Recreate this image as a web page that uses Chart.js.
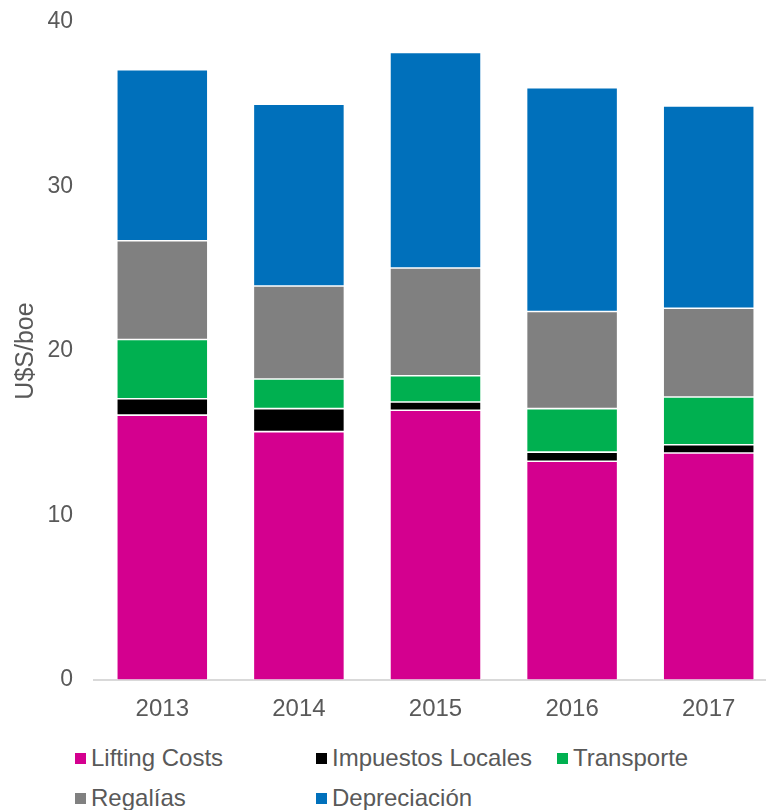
<!DOCTYPE html>
<html>
<head>
<meta charset="utf-8">
<script src="https://cdn.jsdelivr.net/npm/chart.js@4"></script>
<style>
  html, body { margin: 0; padding: 0; background: #fff; overflow: hidden; }
  #wrap { position: relative; width: 777px; height: 740px; }
  #legend { position: relative; height: 70px; font-family: "Liberation Sans", Arial, sans-serif; font-size: 24px; color: #595959; }
  .item { position: absolute; display: flex; align-items: center; white-space: nowrap; }
  .box { width: 11px; height: 11px; margin-right: 5px; }
</style>
</head>
<body>
<div id="wrap"><canvas id="myChart" width="777" height="740"></canvas></div>
<div id="legend"></div>
<script>
'use strict'

let years = ['2013', '2014', '2015', '2016', '2017'];
let liftingCosts = [16.1, 15.1, 16.4, 13.3, 13.8];
let impuestosLocales = [1.0, 1.4, 0.5, 0.55, 0.5];
let transporte = [3.6, 1.8, 1.6, 2.65, 2.9];
let regalias = [6.0, 5.65, 6.55, 5.9, 5.4];
let depreciacion = [10.4, 11.05, 13.1, 13.6, 12.3];
let seriesNames = ['Lifting Costs', 'Impuestos Locales', 'Transporte', 'Regalías', 'Depreciación'];
let seriesColors = ['#d4008f', '#000000', '#00b050', '#808080', '#0070bb'];
let seriesData = [liftingCosts, impuestosLocales, transporte, regalias, depreciacion];
let yTicks = [0, 10, 20, 30, 40];

let datasets = [];
for (let i = 0; i < seriesNames.length; i++) {
    datasets.push({
        label: seriesNames[i],
        data: seriesData[i],
        backgroundColor: seriesColors[i],
        borderColor: 'rgba(255,255,255,0.45)',
        borderWidth: 0.8,
        borderSkipped: false,
        categoryPercentage: 1,
        barPercentage: 0.667
    });
}

let ctx = document.getElementById('myChart').getContext('2d');
let myChart = new Chart(ctx, {
    type: 'bar',
    data: {
        labels: years,
        datasets: datasets
    },
    options: {
        responsive: false,
        animation: false,
        layout: { padding: { top: 22, left: 0, right: 0, bottom: 0 } },
        plugins: {
            legend: { display: false },
            tooltip: { enabled: false }
        },
        scales: {
            x: {
                stacked: true,
                grid: { display: false, drawTicks: false },
                border: { display: true, color: '#d9d9d9', width: 2 },
                ticks: {
                    color: '#595959',
                    padding: 15,
                    font: { family: 'Liberation Sans', size: 24 }
                },
                afterFit: function (scale) { scale.height = 60; }
            },
            y: {
                stacked: true,
                min: 0,
                max: 40,
                afterBuildTicks: function (scale) {
                    scale.ticks = yTicks.map(function (v) { return { value: v }; });
                },
                grid: { display: false, drawTicks: false },
                border: { display: false },
                ticks: {
                    color: '#595959',
                    padding: 21,
                    font: { family: 'Liberation Sans', size: 23 }
                },
                title: {
                    display: true,
                    text: 'U$S/boe',
                    color: '#595959',
                    padding: { top: 11, bottom: 0 },
                    font: { family: 'Liberation Sans', size: 25 }
                },
                afterFit: function (scale) {
                    scale.width = 94;
                    scale.paddingTop = 0;
                    scale.paddingBottom = 0;
                }
            }
        }
    }
});

// legend laid out in fixed columns like the original
let legendEl = document.getElementById('legend');
let legendPos = [[75, 0], [316, 0], [557, 0], [75, 40], [316, 40]];
for (let i = 0; i < seriesNames.length; i++) {
    let item = document.createElement('div');
    item.className = 'item';
    item.style.left = legendPos[i][0] + 'px';
    item.style.top = (legendPos[i][1] + 4) + 'px';
    let box = document.createElement('span');
    box.className = 'box';
    box.style.background = seriesColors[i];
    let txt = document.createElement('span');
    txt.textContent = seriesNames[i];
    item.appendChild(box);
    item.appendChild(txt);
    legendEl.appendChild(item);
}
</script>
</body>
</html>
